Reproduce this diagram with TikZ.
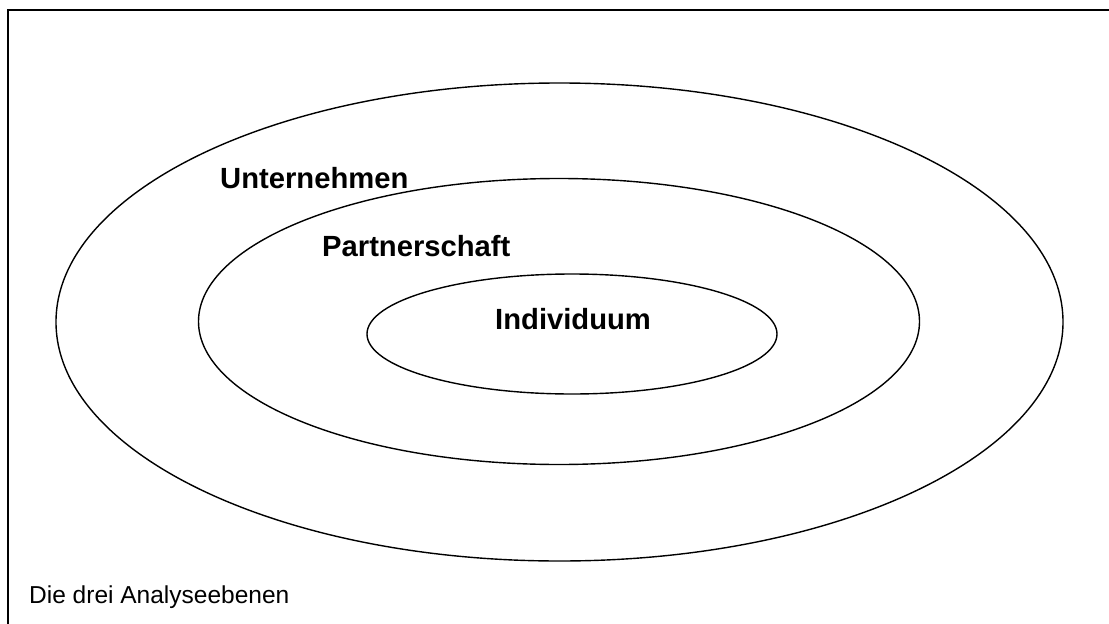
\documentclass[tikz,border=0pt]{standalone}
\usepackage{fontspec}
\setmainfont{Liberation Sans}
\begin{document}
\begin{tikzpicture}[x=1pt,y=-1pt,
  ring/.style={draw=black,line width=1.4pt},
  lvl/.style={font=\fontsize{29.2}{34}\selectfont\bfseries,anchor=base west,inner sep=0pt},
  captiontext/.style={font=\fontsize{24.5}{29}\selectfont,anchor=base west,inner sep=0pt}]
\useasboundingbox (0,0) rectangle (1109,624);
\clip (0,0) rectangle (1109,624);
\draw[line width=2pt] (8,640) -- (8,10) -- (1120,10);
\draw[ring] (559.5,322) ellipse [x radius=503.5, y radius=239];
\draw[ring] (559,321.5) ellipse [x radius=360.5, y radius=143];
\draw[ring] (572,334) ellipse [x radius=205, y radius=60];
\node[lvl] (u) at (220,188) {Unternehmen};
\node[lvl] (p) at (322,256) {Partnerschaft};
\node[lvl] (i) at (495,329) {Individuum};
\node[captiontext] (c) at (29,603) {Die drei Analyseebenen};
\end{tikzpicture}
\end{document}
